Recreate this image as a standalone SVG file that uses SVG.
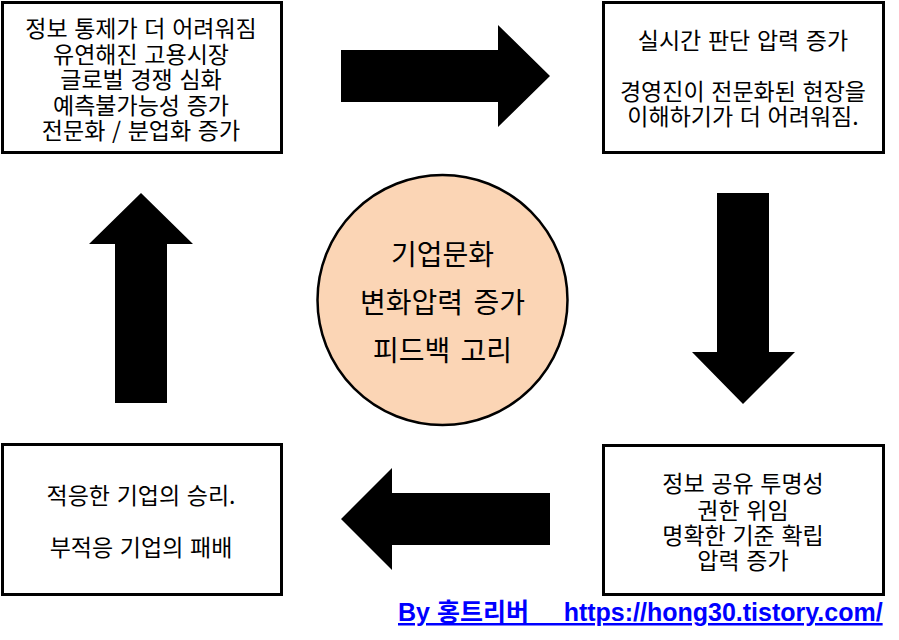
<svg xmlns="http://www.w3.org/2000/svg" width="899" height="640" viewBox="0 0 899 640">
<style>
.box{fill:#fff;stroke:#000;stroke-width:3}
.t{font-family:"Noto Sans CJK KR","Liberation Sans",sans-serif;font-size:23px;fill:#000;text-anchor:middle;word-spacing:1.5px}
.c{font-family:"Noto Sans CJK KR","Liberation Sans",sans-serif;font-size:28px;fill:#000;text-anchor:middle;word-spacing:4px}
.arrow{fill:#000}
.link{font-family:"Liberation Sans","Noto Sans CJK KR",sans-serif;font-weight:bold;font-size:25px;fill:#0000ff;text-decoration:underline}
</style>
<rect width="899" height="640" fill="#fff"/>
<g id="connectors">
<polygon class="arrow" points="341,50 498,50 498,25 550,76 498,127 498,102 341,102"/>
<polygon class="arrow" points="717,193 769,193 769,352 795,352 743,404 692,352 717,352"/>
<polygon class="arrow" points="550,493 392,493 392,468 341,519 392,570 392,545 550,545"/>
<polygon class="arrow" points="115,403 115,244 89,244 141,193 193,244 167,244 167,403"/>
</g>
<g id="node-tl">
<rect class="box" x="2.5" y="2.5" width="279" height="150"/>
<text class="t" x="141" y="37">정보 통제가 더 어려워짐</text>
<text class="t" x="141" y="63">유연해진 고용시장</text>
<text class="t" x="141" y="88">글로벌 경쟁 심화</text>
<text class="t" x="141" y="114">예측불가능성 증가</text>
<text class="t" x="141" y="139">전문화 / 분업화 증가</text>
</g>
<g id="node-tr">
<rect class="box" x="603.5" y="2.5" width="280" height="150"/>
<text class="t" x="743" y="49">실시간 판단 압력 증가</text>
<text class="t" x="743" y="100">경영진이 전문화된 현장을</text>
<text class="t" x="743" y="125">이해하기가 더 어려워짐.</text>
</g>
<g id="node-br">
<rect class="box" x="603.5" y="445.5" width="280" height="149"/>
<text class="t" x="743" y="492">정보 공유 투명성</text>
<text class="t" x="743" y="519">권한 위임</text>
<text class="t" x="743" y="544">명확한 기준 확립</text>
<text class="t" x="743" y="569">압력 증가</text>
</g>
<g id="node-bl">
<rect class="box" x="2.5" y="444.5" width="279" height="150"/>
<text class="t" x="141" y="504">적응한 기업의 승리.</text>
<text class="t" x="141" y="556">부적응 기업의 패배</text>
</g>
<g id="node-center">
<circle cx="442.5" cy="300" r="125" fill="#fbd5b5" stroke="#000" stroke-width="2.5"/>
<text class="c" x="442.5" y="265">기업문화</text>
<text class="c" x="442.5" y="313">변화압력 증가</text>
<text class="c" x="442.5" y="361">피드백 고리</text>
</g>
<g id="credit">
<text class="link" x="398" y="621" xml:space="preserve">By 홍트리버     https://hong30.tistory.com/</text>
</g>
</svg>
